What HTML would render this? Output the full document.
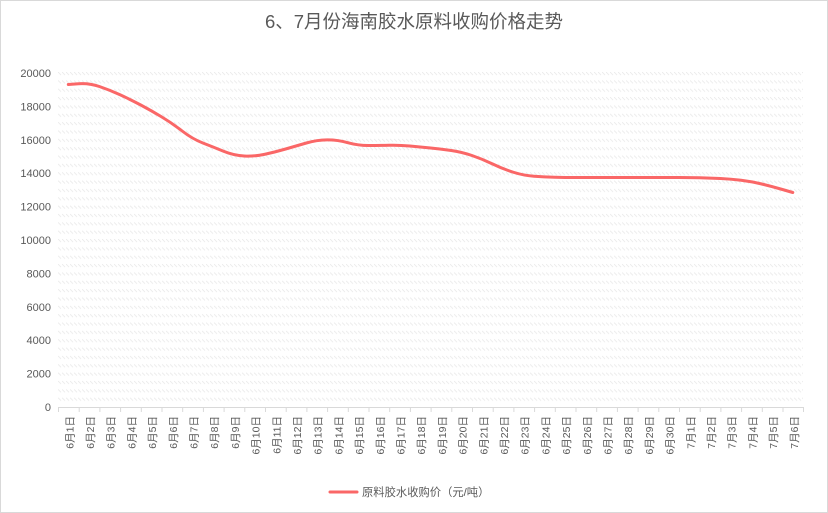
<!DOCTYPE html>
<html><head><meta charset="utf-8"><style>
html,body{margin:0;padding:0;background:#fff;}
.wrap{width:828px;height:513px;box-sizing:border-box;border:1px solid #d9d9d9;position:relative;overflow:hidden;background:#fff;}
svg{position:absolute;left:-1px;top:-1px;}
text{font-family:"Liberation Sans","Noto Sans CJK SC",sans-serif;fill:#595959;}
</style></head><body><div class="wrap">
<svg width="828" height="513" viewBox="0 0 828 513" xmlns="http://www.w3.org/2000/svg">
<defs>
<pattern id="h" patternUnits="userSpaceOnUse" x="58" y="72" width="4" height="8.35">
<path d="M0,0 L3,3" stroke="#ebebeb" stroke-width="0.9" fill="none"/>
</pattern>
</defs>
<text x="414" y="28" text-anchor="middle" style="font-size:18.5px">6、7月份海南胶水原料收购价格走势</text>
<rect x="58" y="72" width="745" height="334" fill="url(#h)"/>
<g style="font-size:11px" text-anchor="end">
<text x="51" y="77">20000</text>
<text x="51" y="110.4">18000</text>
<text x="51" y="143.8">16000</text>
<text x="51" y="177.2">14000</text>
<text x="51" y="210.6">12000</text>
<text x="51" y="244">10000</text>
<text x="51" y="277.4">8000</text>
<text x="51" y="310.8">6000</text>
<text x="51" y="344.2">4000</text>
<text x="51" y="377.6">2000</text>
<text x="51" y="411">0</text>
</g>
<line x1="58" y1="407.5" x2="803" y2="407.5" stroke="#d9d9d9" stroke-width="1"/>
<g stroke="#d9d9d9" stroke-width="1">
<line x1="58.5" y1="407" x2="58.5" y2="412"/><line x1="79.2" y1="407" x2="79.2" y2="412"/><line x1="99.9" y1="407" x2="99.9" y2="412"/><line x1="120.6" y1="407" x2="120.6" y2="412"/><line x1="141.3" y1="407" x2="141.3" y2="412"/><line x1="162" y1="407" x2="162" y2="412"/><line x1="182.7" y1="407" x2="182.7" y2="412"/><line x1="203.4" y1="407" x2="203.4" y2="412"/><line x1="224.1" y1="407" x2="224.1" y2="412"/><line x1="244.8" y1="407" x2="244.8" y2="412"/><line x1="265.5" y1="407" x2="265.5" y2="412"/><line x1="286.2" y1="407" x2="286.2" y2="412"/><line x1="306.9" y1="407" x2="306.9" y2="412"/><line x1="327.6" y1="407" x2="327.6" y2="412"/><line x1="348.3" y1="407" x2="348.3" y2="412"/><line x1="369" y1="407" x2="369" y2="412"/><line x1="389.7" y1="407" x2="389.7" y2="412"/><line x1="410.4" y1="407" x2="410.4" y2="412"/><line x1="431.1" y1="407" x2="431.1" y2="412"/><line x1="451.8" y1="407" x2="451.8" y2="412"/><line x1="472.5" y1="407" x2="472.5" y2="412"/><line x1="493.2" y1="407" x2="493.2" y2="412"/><line x1="513.9" y1="407" x2="513.9" y2="412"/><line x1="534.6" y1="407" x2="534.6" y2="412"/><line x1="555.3" y1="407" x2="555.3" y2="412"/><line x1="576" y1="407" x2="576" y2="412"/><line x1="596.7" y1="407" x2="596.7" y2="412"/><line x1="617.4" y1="407" x2="617.4" y2="412"/><line x1="638.1" y1="407" x2="638.1" y2="412"/><line x1="658.8" y1="407" x2="658.8" y2="412"/><line x1="679.5" y1="407" x2="679.5" y2="412"/><line x1="700.2" y1="407" x2="700.2" y2="412"/><line x1="720.9" y1="407" x2="720.9" y2="412"/><line x1="741.6" y1="407" x2="741.6" y2="412"/><line x1="762.3" y1="407" x2="762.3" y2="412"/><line x1="783" y1="407" x2="783" y2="412"/><line x1="803.5" y1="407" x2="803.5" y2="412"/>
</g>
<g style="font-size:10.5px" text-anchor="end">
<text transform="translate(73.3,416) rotate(-90)">6月1日</text>
<text transform="translate(94,416) rotate(-90)">6月2日</text>
<text transform="translate(114.7,416) rotate(-90)">6月3日</text>
<text transform="translate(135.4,416) rotate(-90)">6月4日</text>
<text transform="translate(156.1,416) rotate(-90)">6月5日</text>
<text transform="translate(176.8,416) rotate(-90)">6月6日</text>
<text transform="translate(197.5,416) rotate(-90)">6月7日</text>
<text transform="translate(218.2,416) rotate(-90)">6月8日</text>
<text transform="translate(238.9,416) rotate(-90)">6月9日</text>
<text transform="translate(259.6,416) rotate(-90)">6月10日</text>
<text transform="translate(280.3,416) rotate(-90)">6月11日</text>
<text transform="translate(301,416) rotate(-90)">6月12日</text>
<text transform="translate(321.7,416) rotate(-90)">6月13日</text>
<text transform="translate(342.4,416) rotate(-90)">6月14日</text>
<text transform="translate(363.1,416) rotate(-90)">6月15日</text>
<text transform="translate(383.8,416) rotate(-90)">6月16日</text>
<text transform="translate(404.5,416) rotate(-90)">6月17日</text>
<text transform="translate(425.2,416) rotate(-90)">6月18日</text>
<text transform="translate(445.9,416) rotate(-90)">6月19日</text>
<text transform="translate(466.6,416) rotate(-90)">6月20日</text>
<text transform="translate(487.3,416) rotate(-90)">6月21日</text>
<text transform="translate(508,416) rotate(-90)">6月22日</text>
<text transform="translate(528.7,416) rotate(-90)">6月23日</text>
<text transform="translate(549.4,416) rotate(-90)">6月24日</text>
<text transform="translate(570.1,416) rotate(-90)">6月25日</text>
<text transform="translate(590.8,416) rotate(-90)">6月26日</text>
<text transform="translate(611.5,416) rotate(-90)">6月27日</text>
<text transform="translate(632.2,416) rotate(-90)">6月28日</text>
<text transform="translate(652.9,416) rotate(-90)">6月29日</text>
<text transform="translate(673.6,416) rotate(-90)">6月30日</text>
<text transform="translate(694.3,416) rotate(-90)">7月1日</text>
<text transform="translate(715,416) rotate(-90)">7月2日</text>
<text transform="translate(735.7,416) rotate(-90)">7月3日</text>
<text transform="translate(756.4,416) rotate(-90)">7月4日</text>
<text transform="translate(777.1,416) rotate(-90)">7月5日</text>
<text transform="translate(797.8,416) rotate(-90)">7月6日</text>
</g>
<path fill="none" stroke="#fa6767" stroke-width="3" stroke-linejoin="round" stroke-linecap="round"
d="M68.3,84.5 L78.65,83.75 Q89,83 99.35,86.5 Q109.7,90 120.05,94.75 Q130.4,99.5 140.75,105 Q151.1,110.5 161.45,116.75 Q171.8,123 182.15,131 Q192.5,139 202.85,143 Q213.2,147 223.55,151.25 Q233.9,155.5 244.25,156 Q254.6,156.5 264.95,154.25 Q275.3,152 285.65,149 Q296,146 306.35,143 Q316.7,140 327.05,139.9 Q337.4,139.8 347.75,142.65 Q358.1,145.5 368.45,145.5 Q378.8,145.5 389.15,145.25 Q399.5,145 409.85,146 Q420.2,147 430.55,148 Q440.9,149 451.25,150.5 Q461.6,152 471.95,155.5 Q482.3,159 492.65,164 Q503,169 513.35,172.25 Q523.7,175.5 534.05,176.25 Q544.4,177 554.75,177.25 Q565.1,177.5 575.45,177.5 L679,177.5 Q689.3,177.5 699.65,177.75 Q710,178 720.35,178.5 Q730.7,179 741.05,180.25 Q751.4,181.5 761.75,184 Q772.1,186.5 782.45,189.5 L792.8,192.5"/>
<line x1="330" y1="492" x2="357" y2="492" stroke="#fa6767" stroke-width="3" stroke-linecap="round"/>
<text x="362" y="496" style="font-size:11.3px">原料胶水收购价（元/吨）</text>
</svg>
</div></body></html>
